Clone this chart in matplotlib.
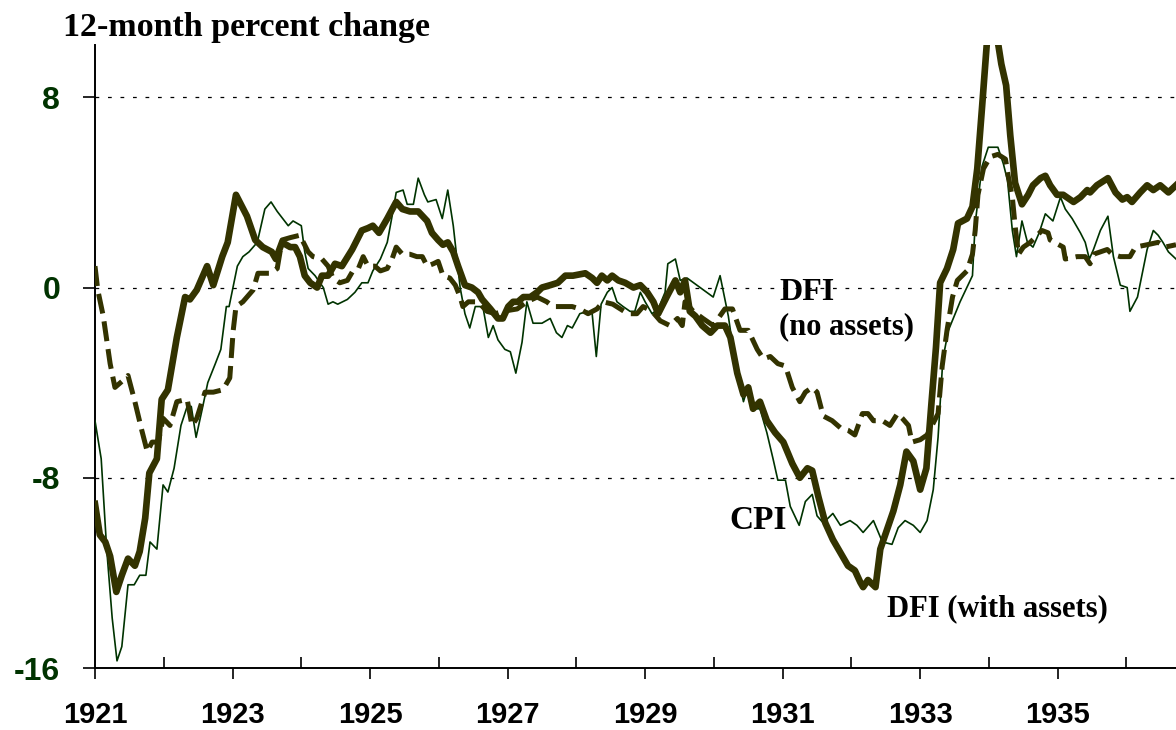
import numpy as np
import matplotlib.pyplot as plt
from matplotlib.ticker import FixedLocator

# CPI, 12-month percent change (thin line)
cpi_x = [1921.00, 1921.09, 1921.17, 1921.25, 1921.32, 1921.39, 1921.48, 1921.57, 1921.65, 1921.74,
         1921.80, 1921.90, 1921.99, 1922.06, 1922.15, 1922.25, 1922.34, 1922.40, 1922.47, 1922.56,
         1922.64, 1922.75, 1922.83, 1922.91, 1922.95, 1923.07, 1923.15, 1923.24, 1923.36, 1923.47,
         1923.56, 1923.65, 1923.73, 1923.81, 1923.88, 1924.00, 1924.05, 1924.10, 1924.20, 1924.32,
         1924.39, 1924.46, 1924.53, 1924.67, 1924.78, 1924.88, 1924.97, 1925.04, 1925.15, 1925.25,
         1925.32, 1925.38, 1925.48, 1925.54, 1925.63, 1925.70, 1925.79, 1925.84, 1925.96, 1926.05,
         1926.13, 1926.21, 1926.31, 1926.38, 1926.45, 1926.53, 1926.64, 1926.72, 1926.79, 1926.86,
         1926.96, 1927.04, 1927.12, 1927.21, 1927.28, 1927.37, 1927.50, 1927.62, 1927.71, 1927.79,
         1927.87, 1927.94, 1928.05, 1928.16, 1928.23, 1928.29, 1928.36, 1928.45, 1928.52, 1928.59,
         1928.68, 1928.78, 1928.85, 1928.93, 1929.00, 1929.10, 1929.19, 1929.29, 1929.33, 1929.44,
         1929.51, 1929.61, 1929.99, 1930.09, 1930.21, 1930.31, 1930.43, 1930.50, 1930.60, 1930.67,
         1930.77, 1930.86, 1930.93, 1931.04, 1931.11, 1931.24, 1931.33, 1931.43, 1931.50, 1931.59,
         1931.73, 1931.84, 1931.98, 1932.08, 1932.17, 1932.32, 1932.45, 1932.59, 1932.68, 1932.78,
         1932.90, 1933.00, 1933.10, 1933.19, 1933.26, 1933.33, 1933.41, 1933.58, 1933.76, 1933.80,
         1933.90, 1933.99, 1934.13, 1934.21, 1934.27, 1934.34, 1934.40, 1934.48, 1934.56, 1934.64,
         1934.73, 1934.82, 1934.93, 1935.04, 1935.11, 1935.21, 1935.33, 1935.40, 1935.46, 1935.52,
         1935.62, 1935.73, 1935.81, 1935.91, 1936.01, 1936.05, 1936.16, 1936.23, 1936.30, 1936.39,
         1936.46, 1936.53, 1936.61, 1936.72]
cpi_y = [-5.6, -7.2, -11.0, -13.9, -15.7, -15.1, -12.5, -12.5, -12.1, -12.1,
         -10.7, -11.0, -8.3, -8.6, -7.6, -5.8, -5.0, -5.0, -6.3, -5.1,
         -4.0, -3.2, -2.6, -0.8, -0.8, 0.9, 1.3, 1.5, 1.9, 3.3,
         3.6, 3.2, 2.9, 2.6, 2.8, 2.6, 1.5, 0.8, 0.5, 0.0,
         -0.7, -0.6, -0.7, -0.5, -0.2, 0.2, 0.2, 0.7, 1.2, 1.9,
         3.0, 4.0, 4.1, 3.5, 3.5, 4.6, 3.9, 3.6, 3.7, 2.9,
         4.1, 2.6, 0.0, -1.1, -1.7, -0.8, -0.8, -2.1, -1.6, -2.2,
         -2.6, -2.7, -3.6, -2.3, -0.6, -1.5, -1.5, -1.3, -1.9, -2.1,
         -1.6, -1.7, -1.1, -1.0, -1.1, -2.9, -0.7, -0.2, 0.0, -0.6,
         -0.8, -1.0, -1.0, -0.2, -0.6, -1.1, -0.9, -0.2, 1.0, 1.2,
         0.3, 0.4, -0.4, 0.5, -1.2, -3.2, -4.8, -4.1, -5.1, -5.1,
         -6.1, -7.2, -8.1, -8.1, -9.2, -10.0, -9.0, -8.7, -9.6, -9.9,
         -9.5, -10.0, -9.8, -10.0, -10.3, -9.8, -10.7, -10.8, -10.1, -9.8,
         -10.0, -10.3, -9.8, -8.5, -6.3, -3.0, -1.8, -0.6, 0.5, 2.7,
         5.1, 5.9, 5.9, 5.2, 4.5, 2.4, 1.3, 2.8, 1.9, 1.7,
         2.3, 3.1, 2.8, 3.8, 3.3, 2.9, 2.3, 1.9, 1.2, 1.6,
         2.4, 3.0, 1.3, 0.1, 0.0, -1.0, -0.4, 0.6, 1.6, 2.4,
         2.2, 1.9, 1.5, 1.2]

# DFI with assets (thick line)
dfi_a_x = [1921.00, 1921.07, 1921.15, 1921.22, 1921.31, 1921.39, 1921.48, 1921.58, 1921.65, 1921.73,
           1921.79, 1921.90, 1921.97, 1922.06, 1922.19, 1922.31, 1922.38, 1922.48, 1922.63, 1922.72,
           1922.85, 1922.93, 1923.05, 1923.21, 1923.33, 1923.44, 1923.57, 1923.63, 1923.72, 1923.84,
           1923.91, 1923.98, 1924.05, 1924.13, 1924.23, 1924.30, 1924.39, 1924.49, 1924.59, 1924.74,
           1924.88, 1924.97, 1925.04, 1925.13, 1925.25, 1925.38, 1925.47, 1925.58, 1925.70, 1925.83,
           1925.90, 1925.99, 1926.06, 1926.13, 1926.21, 1926.28, 1926.38, 1926.48, 1926.57, 1926.63,
           1926.75, 1926.86, 1926.93, 1927.01, 1927.08, 1927.15, 1927.23, 1927.33, 1927.43, 1927.50,
           1927.62, 1927.73, 1927.84, 1927.95, 1928.13, 1928.23, 1928.30, 1928.37, 1928.45, 1928.52,
           1928.61, 1928.71, 1928.83, 1928.93, 1929.03, 1929.12, 1929.19, 1929.33, 1929.44, 1929.51,
           1929.58, 1929.65, 1929.73, 1929.83, 1929.95, 1930.05, 1930.16, 1930.24, 1930.34, 1930.43,
           1930.50, 1930.57, 1930.67, 1930.77, 1930.89, 1931.01, 1931.14, 1931.25, 1931.36, 1931.43,
           1931.52, 1931.62, 1931.73, 1931.87, 1931.95, 1932.05, 1932.13, 1932.17, 1932.24, 1932.35,
           1932.42, 1932.61, 1932.71, 1932.80, 1932.90, 1933.00, 1933.09, 1933.16, 1933.23, 1933.29,
           1933.39, 1933.48, 1933.55, 1933.68, 1933.76, 1933.83, 1933.90, 1933.97, 1934.05, 1934.12,
           1934.18, 1934.25, 1934.31, 1934.38, 1934.48, 1934.57, 1934.64, 1934.75, 1934.82, 1934.89,
           1934.99, 1935.08, 1935.23, 1935.33, 1935.43, 1935.47, 1935.57, 1935.73, 1935.84, 1935.94,
           1936.01, 1936.08, 1936.20, 1936.30, 1936.39, 1936.49, 1936.61, 1936.72]
dfi_a_y = [-9.1, -10.4, -10.7, -11.3, -12.8, -12.1, -11.4, -11.7, -11.1, -9.7,
           -7.8, -7.2, -4.7, -4.3, -2.1, -0.4, -0.5, -0.1, 0.9, 0.1,
           1.3, 1.9, 3.9, 3.0, 2.0, 1.7, 1.5, 1.2, 1.9, 1.7,
           1.7, 1.3, 0.5, 0.2, 0.0, 0.5, 0.5, 1.0, 0.9, 1.6,
           2.4, 2.5, 2.6, 2.3, 2.9, 3.6, 3.3, 3.2, 3.2, 2.8,
           2.3, 2.0, 1.8, 1.9, 1.5, 0.9, 0.1, 0.0, -0.2, -0.5,
           -0.9, -1.3, -1.3, -0.8, -0.6, -0.6, -0.4, -0.4, -0.2, 0.0,
           0.1, 0.2, 0.5, 0.5, 0.6, 0.4, 0.2, 0.5, 0.3, 0.5,
           0.3, 0.2, 0.0, 0.1, -0.2, -0.6, -1.1, -0.3, 0.3, -0.2,
           0.3, -1.0, -1.2, -1.6, -1.9, -1.6, -1.6, -2.1, -3.6, -4.5,
           -4.2, -5.1, -4.8, -5.6, -6.1, -6.5, -7.4, -8.0, -7.6, -7.7,
           -8.8, -9.9, -10.6, -11.3, -11.7, -11.9, -12.4, -12.6, -12.3, -12.6,
           -11.0, -9.4, -8.3, -6.9, -7.3, -8.5, -7.6, -5.0, -2.5, 0.2,
           0.8, 1.6, 2.7, 2.9, 3.4, 5.0, 7.6, 10.3, 11.3, 10.5,
           9.4, 8.5, 6.4, 4.4, 3.5, 3.9, 4.3, 4.6, 4.7, 4.3,
           3.9, 3.9, 3.6, 3.8, 4.1, 4.0, 4.3, 4.6, 4.0, 3.7,
           3.8, 3.6, 4.0, 4.3, 4.1, 4.3, 4.0, 4.3]

# DFI without assets (dashed line)
dfi_n_x = [1921.00, 1921.04, 1921.12, 1921.15, 1921.22, 1921.29, 1921.41, 1921.48, 1921.58, 1921.68,
           1921.76, 1921.83, 1921.92, 1921.99, 1922.09, 1922.19, 1922.34, 1922.41, 1922.48, 1922.60,
           1922.72, 1922.86, 1922.96, 1923.01, 1923.05, 1923.15, 1923.30, 1923.37, 1923.55, 1923.65,
           1923.72, 1923.84, 1923.98, 1924.03, 1924.10, 1924.17, 1924.30, 1924.39, 1924.46, 1924.56,
           1924.67, 1924.75, 1924.83, 1924.90, 1924.97, 1925.07, 1925.15, 1925.25, 1925.32, 1925.38,
           1925.47, 1925.58, 1925.68, 1925.76, 1925.83, 1925.92, 1925.99, 1926.06, 1926.16, 1926.24,
           1926.31, 1926.35, 1926.43, 1926.57, 1926.70, 1926.82, 1926.93, 1927.14, 1927.28, 1927.43,
           1927.57, 1927.66, 1927.79, 1927.94, 1928.05, 1928.17, 1928.30, 1928.39, 1928.53, 1928.64,
           1928.75, 1928.88, 1928.97, 1929.10, 1929.22, 1929.36, 1929.47, 1929.54, 1929.58, 1929.70,
           1929.84, 1929.99, 1930.16, 1930.27, 1930.38, 1930.50, 1930.63, 1930.72, 1930.82, 1930.93,
           1931.04, 1931.14, 1931.25, 1931.33, 1931.43, 1931.50, 1931.59, 1931.72, 1931.84, 1931.95,
           1932.05, 1932.16, 1932.24, 1932.32, 1932.45, 1932.56, 1932.67, 1932.74, 1932.83, 1932.88,
           1933.00, 1933.10, 1933.19, 1933.26, 1933.32, 1933.39, 1933.47, 1933.54, 1933.68, 1933.76,
           1933.80, 1933.84, 1933.92, 1934.02, 1934.13, 1934.24, 1934.28, 1934.34, 1934.38, 1934.43,
           1934.50, 1934.60, 1934.67, 1934.77, 1934.86, 1934.89, 1935.08, 1935.11, 1935.28, 1935.40,
           1935.47, 1935.52, 1935.72, 1935.79, 1935.91, 1936.05, 1936.13, 1936.30, 1936.46, 1936.56,
           1936.72]
dfi_n_y = [0.9, -0.1, -1.2, -1.8, -3.2, -4.2, -3.9, -3.7, -4.8, -6.0,
           -6.9, -6.5, -6.5, -5.5, -5.8, -4.8, -4.7, -5.8, -5.5, -4.4,
           -4.4, -4.3, -3.8, -1.8, -0.8, -0.6, -0.1, 0.6, 0.6, 0.8,
           2.0, 2.1, 2.2, 1.9, 1.5, 1.3, 1.2, 0.9, 0.4, 0.2,
           0.3, 0.7, 0.8, 1.3, 0.9, 0.9, 0.7, 0.8, 1.2, 1.7,
           1.4, 1.4, 1.3, 1.3, 0.9, 1.0, 1.1, 0.5, 0.4, 0.1,
           -0.4, -0.8, -0.6, -0.6, -1.0, -1.1, -1.0, -0.9, -0.6, -0.4,
           -0.6, -0.8, -0.8, -0.8, -0.9, -1.1, -0.9, -0.6, -0.7, -0.9,
           -1.1, -1.1, -0.8, -1.0, -1.4, -1.6, -1.3, -1.6, -0.6, -1.0,
           -1.3, -1.6, -0.9, -0.9, -1.8, -1.8, -2.6, -3.0, -2.9, -3.2,
           -3.3, -4.2, -4.8, -4.4, -4.2, -4.4, -5.4, -5.6, -5.9, -6.0,
           -6.2, -5.3, -5.3, -5.6, -5.6, -5.8, -5.3, -5.5, -5.8, -6.5,
           -6.4, -6.2, -5.7, -5.3, -3.3, -1.8, -0.4, 0.3, 0.7, 1.4,
           2.4, 3.9, 5.0, 5.5, 5.6, 5.4, 4.7, 3.8, 2.6, 1.4,
           1.7, 1.9, 2.1, 2.4, 2.3, 2.0, 1.7, 1.2, 1.3, 1.3,
           1.0, 1.4, 1.6, 1.4, 1.3, 1.3, 1.7, 1.8, 1.9, 1.7,
           1.8]

y_ticks = [-16, -8, 0, 8]
x_labels = [1921, 1923, 1925, 1927, 1929, 1931, 1933, 1935]
x_minor = [1922, 1924, 1926, 1928, 1930, 1932, 1934, 1936]

olive = '#333300'
green = '#003300'
serif = ['Liberation Serif', 'DejaVu Serif']
sans = ['Liberation Sans', 'DejaVu Sans']

fig = plt.figure(figsize=(11.76, 7.30), dpi=100)
ax = fig.add_axes([95 / 1176, 1 - 668 / 730, 1 - 95 / 1176, (668 - 45) / 730])

ax.plot(cpi_x, cpi_y, color=green, lw=1.2, zorder=3)
ax.plot(dfi_n_x, dfi_n_y, color=olive, lw=3.6, linestyle=(0, (4, 1.6)), zorder=4)
ax.plot(dfi_a_x, dfi_a_y, color=olive, lw=4.8, solid_joinstyle='round', zorder=5)

ax.set_xlim(1921, 1936.72)
ax.set_ylim(-16, 10.2)

for v in [8, 0, -8]:
    ax.axhline(v, color='black', lw=0.9, linestyle=(0, (3, 7)), zorder=1)

ax.spines['top'].set_visible(False)
ax.spines['right'].set_visible(False)
ax.spines['left'].set_linewidth(1.4)
ax.spines['bottom'].set_linewidth(1.4)

ax.set_yticks(y_ticks)
ax.set_yticklabels([str(v) for v in y_ticks], fontfamily=sans, fontweight='bold',
                   fontsize=23, color=green)
ax.tick_params(axis='y', direction='out', length=9, width=1.2, pad=16)

ax.set_xticks(x_labels)
ax.set_xticklabels([str(v) for v in x_labels], fontfamily=sans, fontweight='bold', fontsize=21)
ax.xaxis.set_minor_locator(FixedLocator(x_minor))
ax.tick_params(axis='x', which='major', direction='out', length=8, width=1.2, pad=16)
ax.tick_params(axis='x', which='minor', direction='in', length=8, width=1.2)

fig.text(63 / 1176, 1 - 36 / 730, '12-month percent change', family=serif, fontweight='bold',
         fontsize=24.5, ha='left', va='baseline')

ax.text(1930.96, -0.2, 'DFI', family=serif, fontweight='bold', fontsize=23, ha='left', va='center')
ax.text(1930.94, -1.65, '(no assets)', family=serif, fontweight='bold', fontsize=22, ha='left', va='center')
ax.text(1930.22, -9.8, 'CPI', family=serif, fontweight='bold', fontsize=24, ha='left', va='center')
ax.text(1932.52, -13.5, 'DFI (with assets)', family=serif, fontweight='bold', fontsize=22,
        ha='left', va='center')

fig.savefig('out.png', dpi=100)
